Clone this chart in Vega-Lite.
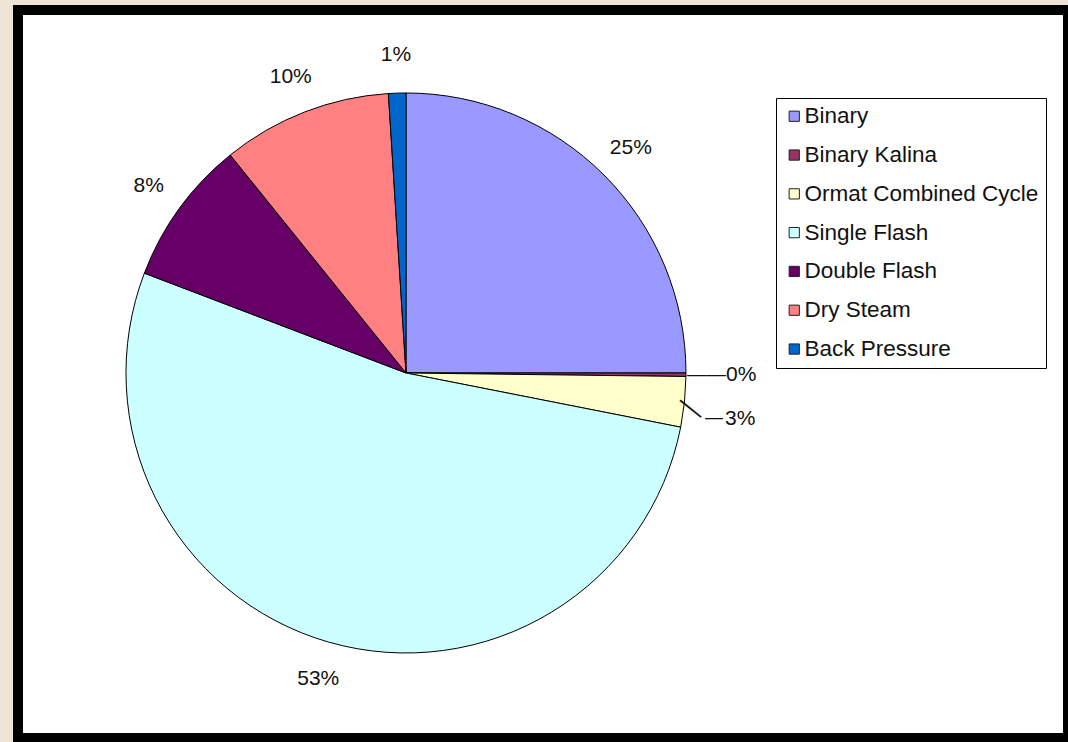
{
  "$schema": "https://vega.github.io/schema/vega-lite/v6.json",
  "autosize": "none",
  "width": 1050,
  "height": 728,
  "padding": {"left": 18, "top": 10, "right": 0, "bottom": 4},
  "background": "#efe4d6",
  "view": {"fill": "white", "stroke": "black", "strokeWidth": 10},
  "config": {
    "view": {"fill": "white", "stroke": "black", "strokeWidth": 10},
    "font": "Liberation Sans"
  },
  "data": {
    "values": [
      {"type": "Binary", "value": 0.25},
      {"type": "Binary Kalina", "value": 0.002},
      {"type": "Ormat Combined Cycle", "value": 0.029},
      {"type": "Single Flash", "value": 0.527},
      {"type": "Double Flash", "value": 0.084},
      {"type": "Dry Steam", "value": 0.098},
      {"type": "Back Pressure", "value": 0.010}
    ]
  },
  "transform": [
    {"window": [{"op": "row_number", "as": "idx"}]}
  ],
  "encoding": {
    "theta": {"field": "value", "type": "quantitative", "stack": true},
    "order": {"field": "idx", "type": "quantitative", "sort": "ascending"},
    "color": {
      "field": "type",
      "type": "nominal",
      "sort": ["Binary", "Binary Kalina", "Ormat Combined Cycle", "Single Flash", "Double Flash", "Dry Steam", "Back Pressure"],
      "scale": {
        "domain": ["Binary", "Binary Kalina", "Ormat Combined Cycle", "Single Flash", "Double Flash", "Dry Steam", "Back Pressure"],
        "range": ["#9999ff", "#993366", "#ffffcc", "#ccffff", "#660066", "#ff8080", "#0066cc"]
      },
      "legend": {
        "title": null,
        "orient": "none",
        "legendX": 758,
        "legendY": 88,
        "direction": "vertical",
        "fillColor": "white",
        "strokeColor": "black",
        "padding": 7,
        "symbolType": "square",
        "symbolSize": 105,
        "symbolStrokeColor": "#222",
        "symbolStrokeWidth": 1,
        "labelFont": "Liberation Sans",
        "labelFontSize": 22.5,
        "labelColor": "#111",
        "labelOffset": -1,
        "labelLimit": 400,
        "rowPadding": 15.8
      }
    }
  },
  "layer": [
    {
      "mark": {"type": "arc", "radius": 280, "stroke": "black", "strokeWidth": 1, "x": {"expr": "width * 0.3695"}, "y": {"expr": "height * 0.4986"}}
    },
    {
      "mark": {"type": "text", "radius": 318, "fontSize": 21, "font": "Liberation Sans", "align": "center", "baseline": "middle", "x": {"expr": "width * 0.3695"}, "y": {"expr": "height * 0.4986"}},
      "encoding": {
        "text": {"condition": {"test": "datum.type === 'Binary Kalina' || datum.type === 'Ormat Combined Cycle'", "value": ""}, "field": "value", "type": "quantitative", "format": ".0%"},
        "color": {"value": "#111"}
      }
    },
    {
      "mark": {"type": "text", "radius": 281, "fontSize": 19.5, "font": "Liberation Sans", "align": "left", "baseline": "middle", "x": {"expr": "width * 0.3695"}, "y": {"expr": "height * 0.4986"}},
      "encoding": {
        "text": {"condition": {"test": "datum.type === 'Binary Kalina'", "value": "——"}, "value": ""},
        "color": {"value": "#111"}
      }
    },
    {
      "mark": {"type": "text", "radius": 320, "fontSize": 21, "font": "Liberation Sans", "align": "left", "baseline": "middle", "x": {"expr": "width * 0.3695"}, "y": {"expr": "height * 0.4986"}},
      "encoding": {
        "text": {"condition": {"test": "datum.type === 'Binary Kalina'", "field": "value", "type": "quantitative", "format": ".0%"}, "value": ""},
        "color": {"value": "#111"}
      }
    },
    {
      "mark": {"type": "text", "radius": 290.6, "dy": 6, "angle": 39, "fontSize": 27, "font": "Liberation Sans", "align": "center", "baseline": "middle", "x": {"expr": "width * 0.3695"}, "y": {"expr": "height * 0.4986"}},
      "encoding": {
        "text": {"condition": {"test": "datum.type === 'Ormat Combined Cycle'", "value": "—"}, "value": ""},
        "color": {"value": "#111"}
      }
    },
    {
      "mark": {"type": "text", "radius": 309.7, "dy": 13, "fontSize": 18, "font": "Liberation Sans", "align": "center", "baseline": "middle", "x": {"expr": "width * 0.3695"}, "y": {"expr": "height * 0.4986"}},
      "encoding": {
        "text": {"condition": {"test": "datum.type === 'Ormat Combined Cycle'", "value": "—"}, "value": ""},
        "color": {"value": "#111"}
      }
    },
    {
      "mark": {"type": "text", "radius": 320.7, "dy": 13, "fontSize": 21, "font": "Liberation Sans", "align": "left", "baseline": "middle", "x": {"expr": "width * 0.3695"}, "y": {"expr": "height * 0.4986"}},
      "encoding": {
        "text": {"condition": {"test": "datum.type === 'Ormat Combined Cycle'", "field": "value", "type": "quantitative", "format": ".0%"}, "value": ""},
        "color": {"value": "#111"}
      }
    }
  ]
}
